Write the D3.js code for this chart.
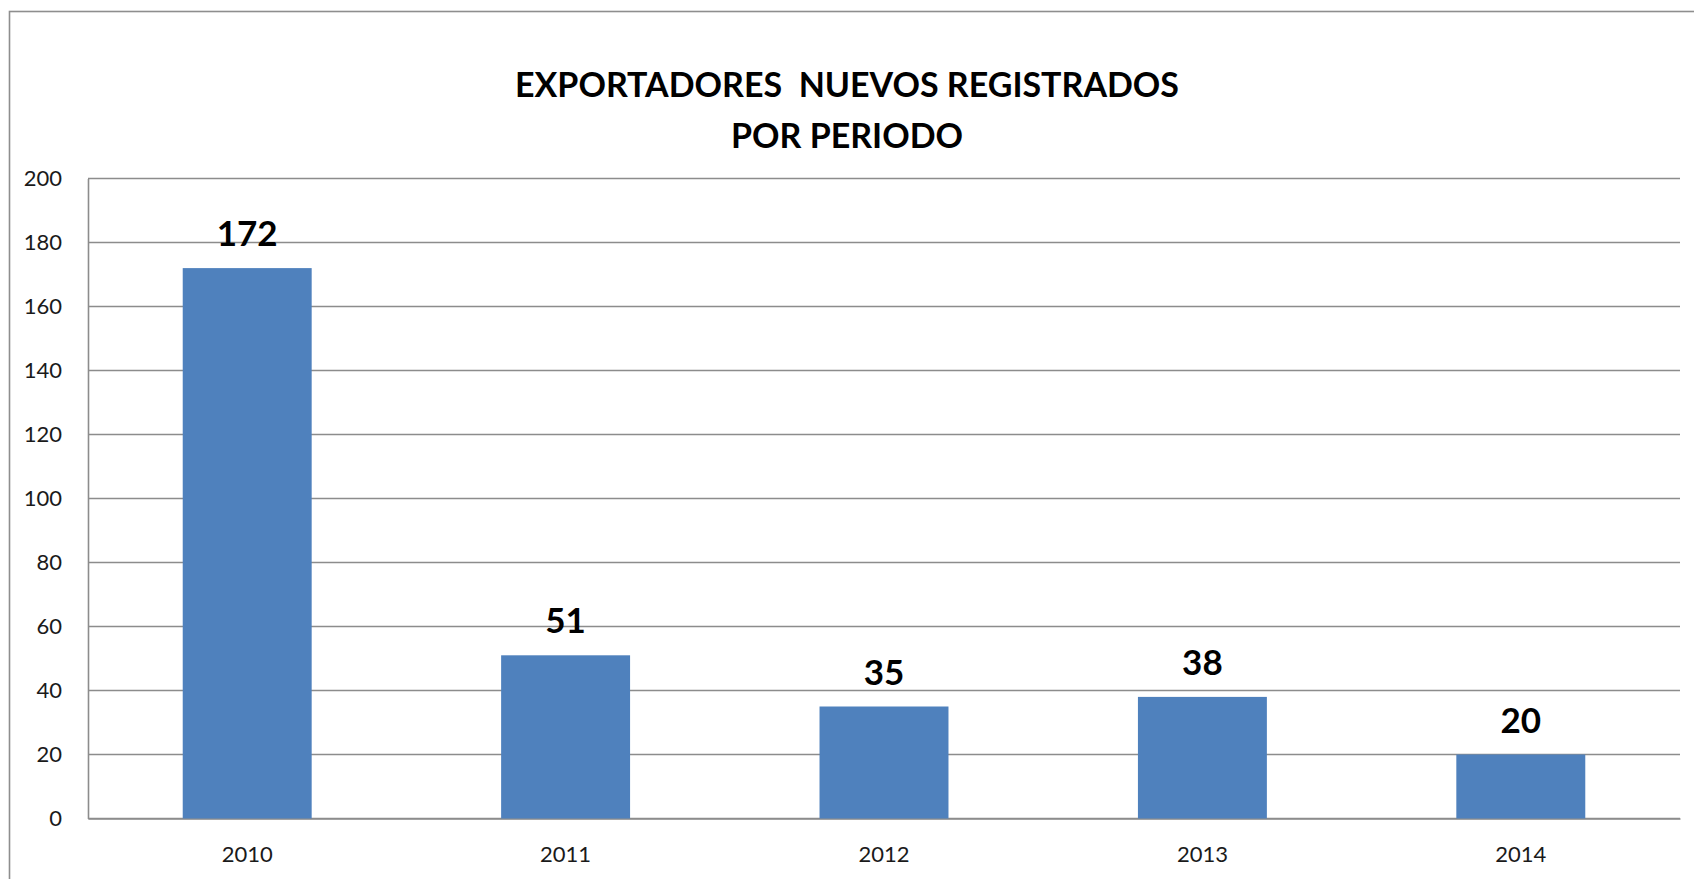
<!DOCTYPE html>
<html>
<head>
<meta charset="utf-8">
<script src="https://cdn.jsdelivr.net/npm/d3@7"></script>
<style>
  html, body { margin: 0; padding: 0; background: #fff; overflow: hidden; }
  svg { display: block; }
</style>
</head>
<body>
<svg id="chart" width="1694" height="879"></svg>
<script>
const categories = ["2010", "2011", "2012", "2013", "2014"];
const values = [172, 51, 35, 38, 20];
const yTicks = [0, 20, 40, 60, 80, 100, 120, 140, 160, 180, 200];
const titleLines = ["EXPORTADORES  NUEVOS REGISTRADOS", "POR PERIODO"];

const W = 1694, H = 879;
const margin = { left: 88, right: 14, top: 178.5, bottom: 60.5 };
const font = "Lato, 'Open Sans', sans-serif";

const svg = d3.select("#chart");

// outer chart border (extends past the right/bottom edges)
svg.append("rect")
  .attr("x", 9.5).attr("y", 11.5)
  .attr("width", W + 20).attr("height", H + 20)
  .attr("fill", "#fff")
  .attr("stroke", "#8e8e8e").attr("stroke-width", 1.6);

const x = d3.scaleBand()
  .domain(categories)
  .range([margin.left, W - margin.right])
  .paddingInner(0.595).paddingOuter(0.2975);

const y = d3.scaleLinear()
  .domain([0, 200])
  .range([H - margin.bottom, margin.top]);

// gridlines
svg.append("g")
  .selectAll("line")
  .data(yTicks)
  .join("line")
  .attr("x1", margin.left).attr("x2", W - margin.right)
  .attr("y1", d => y(d)).attr("y2", d => y(d))
  .attr("stroke", "#8c8c8c").attr("stroke-width", 1.6);

// y axis
const yAxis = d3.axisLeft(y).tickValues(yTicks).tickSize(0).tickPadding(26);
const gy = svg.append("g").attr("transform", `translate(${margin.left},0)`).call(yAxis);
gy.select(".domain").attr("stroke", "#8c8c8c").attr("stroke-width", 1.6);
gy.selectAll("text")
  .attr("font-family", font).attr("font-size", 22).attr("fill", "#1a1a1a");

// x axis
const xAxis = d3.axisBottom(x).tickSize(0).tickPadding(28);
const gx = svg.append("g").attr("transform", `translate(0,${H - margin.bottom})`).call(xAxis);
gx.select(".domain").attr("stroke", "#8c8c8c").attr("stroke-width", 1.6);
gx.selectAll("text")
  .attr("font-family", font).attr("font-size", 22).attr("fill", "#1a1a1a");

// bars
svg.append("g")
  .selectAll("rect")
  .data(values)
  .join("rect")
  .attr("x", (d, i) => x(categories[i]))
  .attr("width", x.bandwidth())
  .attr("y", d => y(d))
  .attr("height", d => y(0) - y(d))
  .attr("fill", "#4f81bd");

// data labels
svg.append("g")
  .selectAll("text")
  .data(values)
  .join("text")
  .attr("x", (d, i) => x(categories[i]) + x.bandwidth() / 2)
  .attr("y", d => y(d) - 22)
  .attr("text-anchor", "middle")
  .attr("font-family", font).attr("font-weight", "bold")
  .attr("font-size", 35).attr("fill", "#000")
  .text(d => d);

// title
svg.append("g")
  .selectAll("text")
  .data(titleLines)
  .join("text")
  .attr("x", W / 2)
  .attr("y", (d, i) => 97 + i * 51)
  .attr("text-anchor", "middle")
  .attr("font-family", font).attr("font-weight", "bold")
  .attr("font-size", 34).attr("fill", "#000")
  .attr("xml:space", "preserve")
  .style("white-space", "pre")
  .text(d => d);
</script>
</body>
</html>
